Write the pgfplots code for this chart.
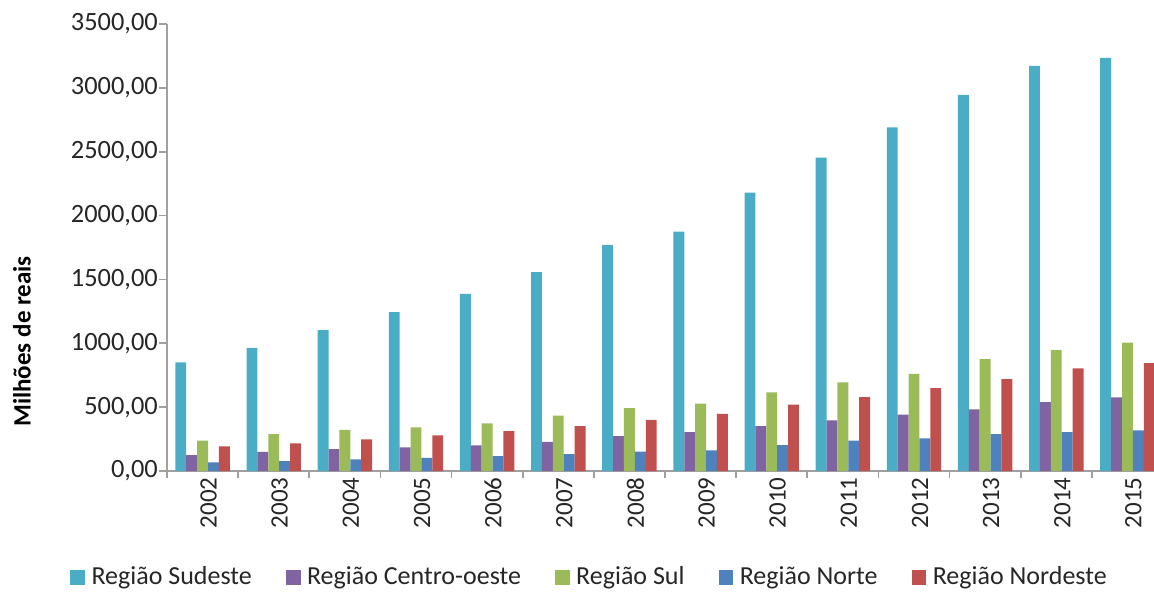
\documentclass[border=0pt]{standalone}
\usepackage{pgfplots}
\pgfplotsset{compat=1.18}
\usepackage{fontspec}
\setmainfont{Carlito}
\definecolor{cSud}{HTML}{4BACC6}
\definecolor{cCen}{HTML}{8064A2}
\definecolor{cSul}{HTML}{9BBB59}
\definecolor{cNor}{HTML}{4F81BD}
\definecolor{cNde}{HTML}{C0504D}
\definecolor{axgray}{HTML}{A0A0A0}
\definecolor{txt}{HTML}{262626}
\newcommand\xl[1]{\hbox{\fontsize{12.5}{15}\selectfont #1}}
\newcommand\yl[1]{\hbox{\fontsize{13.2}{15}\selectfont #1}}
\pgfplotstableread{
x sud cen sul nor nde
0 850 125 237 68 193
1 964 149 289 78 216
2 1103 172 323 91 248
3 1244 185 342 102 279
4 1387 201 373 117 313
5 1558 229 433 133 352
6 1768 274 493 151 401
7 1875 305 527 162 448
8 2180 352 615 203 519
9 2453 396 694 237 579
10 2690 441 761 255 649
11 2946 482 876 289 719
12 3173 540 946 305 803
13 3235 576 1006 318 845
}\data
\begin{document}
\begin{tikzpicture}
\begin{axis}[
  at={(0,0)}, anchor=south west,
  scale only axis, width=498pt, height=223.5pt,
  ymin=0, ymax=3500, xmin=-0.5, xmax=13.5,
  axis lines=left, axis line style={-, draw=axgray, line width=0.9pt},
  ybar=0pt, bar width=0.153,
  ytick={0,500,...,3500},
  scaled y ticks=false,
  /pgf/number format/fixed,
  /pgf/number format/fixed zerofill,
  /pgf/number format/precision=2,
  /pgf/number format/use comma,
  /pgf/number format/1000 sep={},
  /pgf/number format/assume math mode=true,
  tick align=outside,
  major tick length=3.8pt,
  minor tick length=3.6pt,
  xtick={0,...,13},
  xticklabels={\xl{2002},\xl{2003},\xl{2004},\xl{2005},\xl{2006},\xl{2007},\xl{2008},\xl{2009},\xl{2010},\xl{2011},\xl{2012},\xl{2013},\xl{2014},\xl{2015}},
  yticklabel={\yl{\pgfmathprintnumber{\tick}}},
  minor xtick={-0.5,0.5,...,13.5},
  major x tick style={draw=none},
  minor x tick style={draw=axgray, line width=0.9pt},
  ytick style={draw=axgray, line width=0.9pt},
  xticklabel style={text=txt, rotate=90, anchor=east, inner sep=0pt, yshift=-3pt, xshift=0.7pt},
  yticklabel style={text=txt, anchor=east, inner sep=0pt, xshift=-0.6pt},
  ylabel={Milhões de reais},
  ylabel style={font=\fontsize{12.5}{15}\selectfont\bfseries, text=black, at={(axis description cs:-0.1456,0.29)}, anchor=center, rotate=0},
  legend columns=5,
  legend style={draw=none, fill=none, font=\fontsize{13}{15}\selectfont, text=txt,
    at={(axis description cs:0.4252,-0.238)}, anchor=center,
    /tikz/every even column/.append style={column sep=15pt}},
  legend image code/.code={\fill[#1] (0pt,-3.7pt) rectangle (7.4pt,3.7pt); \path (8.6pt,0pt);},
]
\addplot[fill=cSud, draw=none] table[x=x, y=sud] {\data};
\addplot[fill=cCen, draw=none] table[x=x, y=cen] {\data};
\addplot[fill=cSul, draw=none] table[x=x, y=sul] {\data};
\addplot[fill=cNor, draw=none] table[x=x, y=nor] {\data};
\addplot[fill=cNde, draw=none] table[x=x, y=nde] {\data};
\legend{Região Sudeste, Região Centro-oeste, Região Sul, Região Norte, Região Nordeste}
\end{axis}
\pgfresetboundingbox
\useasboundingbox (-83.5pt,-61.5pt) rectangle (493.5pt,235.5pt);
\end{tikzpicture}
\end{document}
